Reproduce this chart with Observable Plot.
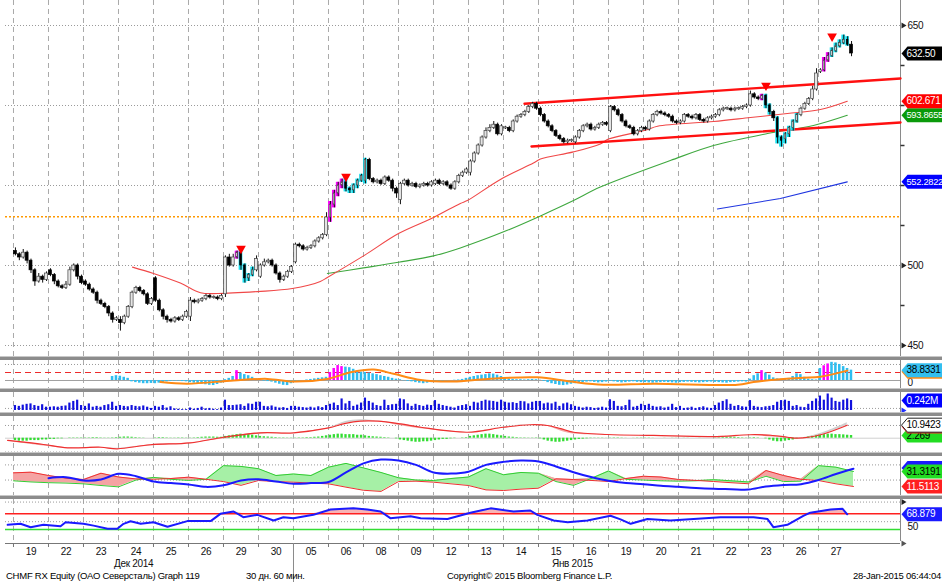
<!DOCTYPE html>
<html><head><meta charset="utf-8">
<script src="https://cdn.jsdelivr.net/npm/d3@7"></script>
<script src="https://cdn.jsdelivr.net/npm/@observablehq/plot@0.6"></script>
<style>
body{margin:0;background:#fff;}
#wrap{position:relative;width:942px;height:582px;overflow:hidden;font-family:'Liberation Sans',Arial,sans-serif;}
#wrap svg text{letter-spacing:-0.3px;}
.panel{position:absolute;left:0;}
.sep{position:absolute;left:0;width:942px;height:4px;border-top:1px solid #c8c8c8;background:#8c8c8c;box-sizing:border-box;}
.foot{position:absolute;top:570px;font-size:9.5px;letter-spacing:-0.25px;white-space:nowrap;color:#000;}
</style></head>
<body><div id="wrap"></div>
<script>
// ---------- DATA ----------
const dayLabels = ["19","22","23","24","25","26","29","30","05","06","08","09","12","13","14","15","16","19","20","21","22","23","26","27"];
const monthLabels = ["Дек 2014","Янв 2015"];
const monthPos = [30.9, 143.7];
const dayOpens = [509,497,490,466,492,468,482,493,502,530,553,541,551,558,586,598,577,584,586,589,593,600,579,621];
const closes = [
507,505,508,503,497,490,493,491,495,
494,490,487,486,488,497,500,493,489,
488,485,483,478,476,474,470,466,467,
464,468,474,483,486,484,482,476,479,
478,472,468,466,465,467,466,468,471,
478,477,478,479,481,480,480,479,481,
505,500,505,508,500,492,494,497,504,
500,502,503,500,495,491,493,496,499,
513,512,510,511,512,515,517,519,530,
538,545,550,552,548,547,550,553,556,
566,554,552,553,551,555,553,548,545,
551,553,550,551,549,550,551,550,552,
553,551,552,550,548,552,556,558,560,
565,570,575,580,584,586,588,582,587,
586,584,590,593,594,596,599,601,598,
594,590,587,584,581,579,577,578,578,
580,584,587,588,585,586,588,589,588,
599,597,594,590,587,586,582,584,586,
585,590,594,596,595,594,593,590,589,
590,594,593,592,594,591,590,592,593,
594,597,598,598,597,598,598,599,600,
607,605,604,606,600,596,592,580,578,
582,586,590,594,598,601,604,610,620,
622,628,631,634,637,639,641,638,632.5];
const wickHi = [
2,1,2,1,1,1,2,1,1, 1,1,1,1,2,2,1,1,1, 1,1,1,1,1,1,1,1,1, 2,1,1,1,1,1,1,1,1,
1,1,1,1,1,1,1,1,1, 2,1,1,1,1,1,1,1,1, 1,2,2,1,1,1,1,2,2, 1,2,1,1,1,1,1,1,1,
1,1,1,1,1,1,1,1,3, 2,2,2,2,3,1,1,1,1, 1,1,1,1,1,1,1,1,1, 1,1,1,1,1,1,1,1,1,
1,1,1,1,1,1,1,1,1, 1,1,1,1,2,2,2,1,1, 1,1,1,1,1,1,1,1,1, 1,1,1,1,1,1,1,1,1,
1,1,1,1,1,1,1,1,1, 1,1,1,1,1,1,1,1,1, 1,1,1,1,1,1,1,1,1, 1,1,1,1,1,1,1,1,1,
1,1,1,1,1,1,1,1,1, 2,1,1,1,1,1,1,1,1, 1,1,1,1,1,1,1,2,3, 1,2,2,2,2,2,3,2,2];
const wickLo = [
1,2,1,2,2,3,1,2,1, 1,2,1,1,1,1,1,2,1, 1,1,1,2,1,1,2,2,1, 5,1,1,1,1,1,1,1,1,
1,1,2,2,1,1,1,1,1, 3,1,1,1,1,1,1,1,1, 2,1,1,1,3,3,2,1,1, 1,1,1,1,1,2,1,1,1,
1,1,1,1,1,1,1,1,1, 3,2,2,2,2,2,2,2,1, 2,1,1,1,1,1,1,2,3, 3,1,1,1,1,1,1,1,1,
1,1,1,1,1,1,1,1,1, 2,1,1,1,1,1,1,1,1, 1,1,1,1,1,1,1,1,1, 1,1,1,1,1,1,1,1,1,
1,1,1,1,1,1,1,1,1, 1,1,1,1,1,1,1,1,1, 1,1,1,1,1,1,1,1,1, 1,1,1,1,1,1,1,1,1,
1,1,1,1,1,1,1,1,1, 1,1,1,1,2,2,2,4,4, 3,2,2,1,1,1,1,1,1, 1,1,1,1,1,1,1,1,2];
const magentaBars = [57,81,82,83,84,192,208,209];
const cyanBars = [58,59,60,61,85,86,87,88,89,90,193,194,196,197,198,199,200,201,210,211,212,213,214];
const triBars = [58,85,193,210];
const triVals = [510.6,555.6,612.5,643.2];
const maRedU = [30.6,36.0,42.9,48.1,52.5,62.7,71.7,78.9,80.7,90.0,99.0,108.0,114.9,116.7,125.2,133.7,135.5,144.0,150.9,153.0,162.5,165.6,180.0,189.5,199.0,207.5,214.4];
const maRedV = [499,495,489,483,482.5,483.7,485.6,490,492.5,506,520,530,538.8,540.6,553.8,564,566.5,571,576,579,584.5,587,590,592.5,595,597.5,602.671];
const maGreenU = [80.7,90.0,99.0,108.0,114.9,127.0,135.5,144.0,150.9,168.9,180.0,193.9,205.7,214.4];
const maGreenV = [495,498.5,502,506,511,522,531,540.6,549,565.6,575,582.5,587.5,593.8655];
const maBlueU = [181.0,197.2,214.4];
const maBlueV = [535.3,541.9,552.2822];
const chanUpperU = [131.4,228.09], chanUpperV = [601.1,616.9];
const chanLowerU = [133.2,228.09], chanLowerV = [574.4,589.4];
const gridLevels = [650,600,550,500,450];
const priceLabels = [650,500,450];
const minorLevels = [625,600,575,550,525,475];
const hLevel = 530.5;
const lastTags = [632.5,602.671,593.8655,552.2822];

const hist1 = [
0,0,0,0,0,0,0,0,0, 0,0,0,0,0,0,0,0,0, 0,0,0,0,0,0,0,15,18, 16,12,8,-5,-8,-10,-12,-12,-11,
-12,-10,-9,-5,-3,-2,-2,-4,-5, -8,-10,-12,-14,-16,-18,-19,-15,-10, 3,8,15,37,28,22,18,12,6, 2,-2,-4,-6,-10,-14,-18,-19,-12,
-6,-3,0,2,4,6,8,10,12, 30,45,56,52,50,48,42,35,31, 30,28,25,22,18,15,12,8,5, 3,-1,-3,-5,-8,-10,-12,-10,-8,
-5,-3,-2,-1,0,1,2,4,8, 12,15,18,20,22,25,24,20,15, 10,6,4,3,3,2,3,4,3, 1,-3,-8,-12,-15,-18,-19,-17,-14,
-12,-10,-8,-6,-5,-7,-9,-8,-6, -3,-5,-7,-9,-8,-6,-5,-7,-8, -8,-9,-10,-9,-8,-7,-8,-9,-10, -8,-7,-6,-7,-8,-9,-8,-7,-6,
-7,-8,-9,-10,-8,-7,-6,-5,-6, 5,18,25,37,28,20,10,6,5, 4,8,15,25,22,12,5,3,2, 45,55,62,68,66,60,52,45,38.8331];
const orangeU = [37.8,44.7,56.6,65.3,72.0,80.7,86.7,92.6,97.7,104.7,113.1,121.9,134.7,143.2,151.7,164.6,186.2,190.3,197.2,203.1,207.5,214.4];
const orangeV = [-6,-12,0,6,-4,6,31,41,25,2,-4,6,12,-4,-16,-12,-16,-6,5,10,14,37];

const volume = [
0.12,0.10,0.13,0.15,0.16,0.12,0.10,0.14,0.08, 0.08,0.09,0.08,0.10,0.11,0.18,0.22,0.25,0.12,
0.10,0.16,0.08,0.10,0.08,0.12,0.14,0.20,0.10, 0.12,0.10,0.09,0.12,0.10,0.09,0.11,0.08,0.05,
0.10,0.08,0.12,0.06,0.09,0.04,0.03,0.02,0.02, 0.06,0.03,0.05,0.08,0.04,0.05,0.03,0.02,0.06,
0.25,0.12,0.12,0.13,0.14,0.10,0.16,0.15,0.20, 0.20,0.10,0.09,0.11,0.08,0.06,0.07,0.05,0.10,
0.10,0.08,0.07,0.06,0.08,0.06,0.09,0.07,0.12, 0.15,0.18,0.12,0.28,0.16,0.22,0.10,0.13,0.18,
0.30,0.22,0.18,0.12,0.10,0.25,0.12,0.14,0.15, 0.28,0.26,0.16,0.10,0.15,0.12,0.10,0.13,0.12,
0.24,0.15,0.12,0.10,0.08,0.06,0.10,0.12,0.14, 0.10,0.20,0.18,0.22,0.25,0.23,0.22,0.20,0.25,
0.20,0.18,0.19,0.17,0.22,0.21,0.16,0.20,0.22, 0.22,0.16,0.18,0.16,0.20,0.10,0.16,0.18,0.14,
0.10,0.08,0.06,0.08,0.07,0.05,0.06,0.08,0.06, 0.26,0.22,0.10,0.09,0.12,0.25,0.08,0.10,0.15,
0.12,0.15,0.10,0.08,0.09,0.06,0.08,0.15,0.07, 0.10,0.05,0.06,0.08,0.05,0.07,0.09,0.06,0.05,
0.12,0.18,0.22,0.26,0.15,0.10,0.12,0.09,0.08, 0.24,0.10,0.08,0.07,0.09,0.10,0.12,0.20,0.24,
0.25,0.22,0.10,0.12,0.08,0.07,0.15,0.22,0.28, 0.35,0.25,0.40,0.30,0.22,0.20,0.25,0.28,0.242];

const p3U = [-1.5,7.7,13.9,22.4,26.7,35.2,45.5,54.0,63.5,72.0,80.7,85.4,89.2,93.6,99.5,104.7,116.7,126.0,132.9,137.3,140.7,144.0,152.7,164.6,180.0,189.5,194.7,199.0,201.6,207.5,214.4];
const p3Red = [-1.9,-5.3,-8.1,-7.6,-8.9,-5.5,-3.9,0.8,4.5,4.5,8.4,12.5,14.3,14.3,12,9.2,5.0,9.2,11.3,10.7,8.0,5.0,3.1,2.3,1.4,2.9,2.5,0.8,0,2.9,10.9423];
const p3Sig = [-2.5,-6.5,-8.5,-8.0,-8.5,-6.5,-4.2,-0.5,3.5,4.5,8.0,14.0,15.5,14.5,10.5,8.0,5.0,9.5,11.5,10.0,6.0,3.5,2.8,2.3,1.4,2.6,1.0,0.2,0,4.0,13.0];
const hist3 = [
-2,-2.5,-2.5,-2.5,-2,-2,-2,-1.5,-1.5, -1,-1,-0.5,-0.5,0,0.3,0.3,0.3,0.3, 0.3,0.3,0.5,0.5,0.3,0.2,0.2,0.3,0.5,
0.8,1,1,0.8,0.5,0.3,0.2,0,0, 0.3,0.5,0.5,0.3,0.2,0.2,0.3,0.3,0.2, 0.2,0.3,0.5,0.8,1,1,1,0.8,0.8,
1.5,2,2.5,3,3.4,3,3,2.5,2, 1.5,1.2,1,0.8,0.5,0.3,0.3,0.2,0.2, 0.2,0.3,0.3,0.5,0.5,0.8,1,1.5,2,
2.5,3,3.4,3.4,3,3,3,2.5,2.5, 2,1.5,1.2,1,0.8,0.5,0.3,0,-0.5, -1.5,-2,-2.5,-3,-3.4,-3.4,-3,-3,-2.5,
-2,-1.5,-1,-1,-0.5,-0.3,0,0.3,0.5, 1.5,2,2.5,3,3.4,3.4,3,2.5,2, 1.5,1,0.8,0.5,0.3,0.3,0.2,0.2,0.3,
-0.5,-1.5,-2.5,-3,-3.4,-3.4,-3,-2.5,-2, -1.5,-1,-0.8,-0.5,-0.3,-0.2,-0.2,-0.2,-0.1, 0.2,0.3,0.3,0.2,0.1,0,-0.1,-0.2,-0.2,
-0.2,-0.2,-0.1,0,0,0.1,0,-0.1,-0.1, 0,0.1,0.1,0,0,-0.1,0,0,0, 0.2,0.3,0.5,0.8,1,0.8,0.5,0.3,0.2,
0.3,0.5,0.3,0,-0.5,-1.5,-2.5,-3,-3, -2.5,-2,-1.5,-0.5,0,0.5,1,1.5,2, 2.5,3,3.4,3.4,3,3,2.8,2.5,2.269];

const dmiPlus = [19,17.5,16.5,16,15,12.8,11,20,23.5,21,19.5,21,39,38,35,26,28,26,37,42,36,30,23,20,19.4,22,24,35,27,30,29,18,13,22,32,21,20,19,18.5,19,20.5,19,17.5,25,18,18.5,39,37,31.3191];
const dmiMinus = [29.5,30.4,26,22.5,20.7,29,24,21.5,21,22,23.8,21,18,13,19.4,18,17.2,16,15,10.6,6.5,5,18,18.5,17.2,15,12.8,7,6.2,8,9.2,21.6,20.7,19.5,18.1,22,25,24,20.7,19.5,18.1,16.5,15.1,32.6,26,21,19.4,15,11.5113];
const adx = [22.5,23.8,19.4,20.7,28.3,25.1,18,16,14,11,13,19.4,21,18.1,15.1,16,17.5,30,42,47,45.8,40,30,28.5,31,40,44,45.8,44.5,38,30.4,24,19,16,14.5,12.5,11,9.5,8.5,8,7.5,11.5,13.5,14.5,20,28,35];

const rsiU = [-1.5,1.8,4.4,7.7,12.1,13.4,18.0,20.6,24.2,26.7,28.3,30.1,32.7,36.0,39.6,44.7,50.7,53.2,56.6,59.1,62.7,66.9,69.4,72.0,77.1,81.5,87.4,91.0,94.4,96.9,102.1,104.7,111.6,117.5,122.7,128.6,132.9,134.7,138.9,142.5,147.6,153.5,156.1,158.7,163.0,168.9,174.9,181.8,186.9,190.3,193.9,195.4,199.0,203.1,204.9,210.1,213.2,214.4];
const rsiV = [42,44.6,36,42,38.5,48.7,44.6,40,32,32,44.6,51,44.6,48.7,37,51.5,51.5,70,76,61.5,67.5,53,61.5,59,67.5,81,84.4,81,76,59,64,59,56.7,73,84,76,78.5,67.5,53,48.7,53,65,56,44.6,56.7,53,56.7,61.5,61.5,61.5,56.7,36,42,65,73,81,82.7,68.879];

const footLeft = "CHMF RX Equity (ОАО Северсталь) Graph 119";
const footPeriod = "30 дн. 60 мин.";
const footCopy = "Copyright© 2015 Bloomberg Finance L.P.";
const footTime = "28-Jan-2015 06:44:04";

// ---------- BUILD ----------
const FONT = "'Liberation Sans',Arial,sans-serif";
const XD = [-2.057, 228.09];
const XMAX = 228.09;
const dayBounds = dayLabels.map((d, i) => i * 9);

const bars = closes.map((c, i) => {
  const o = i % 9 === 0 ? dayOpens[i / 9] : closes[i - 1];
  const hl = magentaBars.includes(i) ? "#ff00ff" : cyanBars.includes(i) ? "#18e0f0" : null;
  let y1 = o, y2 = c;
  if (Math.abs(o - c) < 0.6) { y1 = c - 0.35; y2 = c + 0.35; }
  return {i, o, c, y1, y2, h: Math.max(o, c) + wickHi[i], l: Math.min(o, c) - wickLo[i], hl};
});

const sym = fn => ({draw: fn});
const tagSym = sym(ctx => { ctx.moveTo(1, 0); ctx.lineTo(7, -7); ctx.lineTo(60, -7); ctx.lineTo(60, 7); ctx.lineTo(7, 7); ctx.closePath(); });
const arrowSym = sym(ctx => { ctx.moveTo(1, -3); ctx.lineTo(6, 0); ctx.lineTo(1, 3); ctx.closePath(); });
const minorSym = sym(ctx => { ctx.moveTo(0, 0); ctx.lineTo(4, 0); });

function tag(v, fill, color, label, stroke) {
  return [
    Plot.dot([v], {x: () => XMAX, y: d => d, symbol: tagSym, r: 1, fill, stroke: stroke || "none", strokeWidth: 1}),
    Plot.text([v], {x: () => XMAX, y: d => d, text: () => label, fill: color, textAnchor: "start", dx: 6, fontSize: label.length > 7 ? 9.3 : 10})
  ];
}
function arrows(vals, fill) {
  return Plot.dot(vals, {x: () => XMAX, y: d => d, symbol: arrowSym, r: 1, fill: fill || "#222"});
}
function labels(vals, dy) {
  return Plot.text(vals, {x: () => XMAX, y: d => d, text: d => String(d), fill: "#111", textAnchor: "start", dx: 7, dy: dy || 0, fontSize: 10});
}

function panel(top, height, ydomain, marks, opts = {}) {
  const p = Plot.plot({
    width: 942, height, marginLeft: 5, marginRight: 42, marginTop: 0, marginBottom: 0,
    x: {domain: XD, axis: null},
    y: {domain: ydomain, axis: null, ...(opts.yrange ? {range: opts.yrange} : {})},
    color: {type: "identity"},
    style: {background: "transparent", overflow: "visible", fontFamily: FONT, fontSize: "10px"},
    marks: [
      ...(opts.noGrid ? [] : [Plot.ruleX(dayBounds, {x: d => d, stroke: "#a9a9a9", strokeDasharray: "5,4"})]),
      ...(opts.noAxis ? [] : [Plot.ruleX([XMAX], {x: d => d, stroke: "#8a8a8a"})]),
      ...marks
    ]
  });
  const div = document.createElement("div");
  div.className = "panel";
  div.style.top = top + "px";
  div.appendChild(p);
  document.getElementById("wrap").appendChild(div);
}

// Main price panel
panel(0, 356, [443.125, 665.625], [
  Plot.ruleY(gridLevels, {y: d => d, stroke: "#9a9a9a", strokeDasharray: "1,2"}),
  Plot.ruleY([hLevel], {y: d => d, stroke: "#ff9900", strokeDasharray: "2,2", strokeWidth: 1.6}),
  Plot.line(maBlueV, {x: (d, i) => maBlueU[i], y: d => d, stroke: "#1f35e0", strokeWidth: 1.1}),
  Plot.line(maGreenV, {x: (d, i) => maGreenU[i], y: d => d, stroke: "#3fa83f", strokeWidth: 1.1, curve: "catmull-rom"}),
  Plot.line(maRedV, {x: (d, i) => maRedU[i], y: d => d, stroke: "#f04848", strokeWidth: 1.1, curve: "catmull-rom"}),
  Plot.line(chanUpperV, {x: (d, i) => chanUpperU[i], y: d => d, stroke: "#ff1010", strokeWidth: 2.4}),
  Plot.line(chanLowerV, {x: (d, i) => chanLowerU[i], y: d => d, stroke: "#ff1010", strokeWidth: 2.4}),
  Plot.rect(bars.filter(b => b.hl), {x1: b => b.i + 0.02, x2: b => b.i + 0.98, y1: b => b.l, y2: b => b.h, fill: b => b.hl}),
  Plot.ruleX(bars, {x: b => b.i + 0.5, y1: b => b.l, y2: b => b.h, stroke: "#111", strokeWidth: 1}),
  Plot.rect(bars, {x1: b => b.i + (b.hl ? 0.3 : 0.12), x2: b => b.i + (b.hl ? 0.7 : 0.88), y1: b => b.y1, y2: b => b.y2,
    fill: b => b.c >= b.o ? "#e4e4e4" : "#000", stroke: b => b.c >= b.o ? "#444" : "#000", strokeWidth: 0.7}),
  Plot.dot(triVals, {x: (d, i) => triBars[i] + 0.5, y: d => d, symbol: "triangle", r: 3.6, rotate: 180, fill: "#ff0000"}),
  Plot.dot(minorLevels, {x: () => XMAX, y: d => d, symbol: minorSym, r: 1, fill: "none", stroke: "#333"}),
  arrows(priceLabels),
  labels(priceLabels),
  ...tag(lastTags[3], "#0000ff", "#fff", "552.2822"),
  ...tag(lastTags[2], "#0a9a0a", "#fff", "593.8655"),
  ...tag(lastTags[1], "#ff0000", "#fff", "602.671"),
  ...tag(lastTags[0], "#000", "#fff", "632.50")
]);

// Panel 1: histogram oscillator
panel(360, 28, [-30, 74.9], [
  Plot.ruleY([60], {y: d => d, stroke: "#9a9a9a", strokeDasharray: "1,2"}),
  Plot.ruleY([0], {y: d => d, stroke: "#a0a0a0"}),
  Plot.ruleY([30], {y: d => d, stroke: "#ee2a2a", strokeDasharray: "6,4", strokeWidth: 1.2}),
  Plot.rect(hist1, {x1: (d, i) => i + 0.15, x2: (d, i) => i + 0.8, y1: 0, y2: d => d,
    fill: (d, i) => magentaBars.includes(i) ? "#ff00ff" : "#2ebdf0"}),
  Plot.line(orangeV, {x: (d, i) => orangeU[i], y: d => d, stroke: "#ff8a14", strokeWidth: 2, curve: "catmull-rom"}),
  labels([0], 2),
  ...tag(33, "#ff8a14", "#000", ""),
  ...tag(38.8331, "#33bff0", "#000", "38.8331")
]);

// Panel 2: volume
panel(392, 20, [-0.0484, 0.436], [
  Plot.ruleY([0.05], {y: d => d, stroke: "#9a9a9a", strokeDasharray: "1,2"}),
  Plot.rect(volume, {x1: (d, i) => i + 0.22, x2: (d, i) => i + 0.78, y1: 0, y2: d => d, fill: "#1010dd"}),
  arrows([0], "#2030ff"),
  ...tag(0.242, "#0000ff", "#fff", "0.242M")
]);

// Panel 3: MACD-like
const p3 = p3U.map((u, i) => ({u, r: p3Red[i], s: p3Sig[i]}));
panel(416, 36, [-12.02, 18.24], [
  Plot.ruleY([10.7, -11.6], {y: d => d, stroke: "#9a9a9a", strokeDasharray: "1,2"}),
  Plot.ruleY([0], {y: d => d, stroke: "#d0d0d0"}),
  Plot.areaY(p3, {x: "u", y1: "r", y2: d => Math.max(d.s, d.r), fill: "#cfcfcf", curve: "catmull-rom"}),
  Plot.areaY(p3, {x: "u", y1: d => Math.min(d.s, d.r), y2: "r", fill: "#f4a8a8", curve: "catmull-rom"}),
  Plot.rect(hist3, {x1: (d, i) => i + 0.2, x2: (d, i) => i + 0.8, y1: 0, y2: d => d, fill: "#33dd33"}),
  Plot.line(p3, {x: "u", y: "r", stroke: "#ee3030", strokeWidth: 1.2, curve: "catmull-rom"}),
  ...tag(2.269, "#22dd22", "#000", "2.269"),
  ...tag(9.9, "#ff2020", "#fff", ""),
  ...tag(10.9423, "#ffffff", "#000", "10.9423", "#222")
]);

// Panel 4: DMI
const dmi = dmiPlus.map((g, k) => ({u: k * 4.5, g, r: dmiMinus[k]}));
const adxPts = adx.map((a, k) => ({u: (k + 2) * 4.5, a}));
panel(456, 39, [-0.4, 51.1], [
  Plot.ruleY([40, 20], {y: d => d, stroke: "#9a9a9a", strokeDasharray: "1,2"}),
  Plot.areaY(dmi, {x: "u", y1: "r", y2: d => Math.max(d.g, d.r), fill: "#a6f0a6"}),
  Plot.areaY(dmi, {x: "u", y1: "g", y2: d => Math.max(d.g, d.r), fill: "#f5a3a3"}),
  Plot.line(dmi, {x: "u", y: "g", stroke: "#33cc33", strokeWidth: 1}),
  Plot.line(dmi, {x: "u", y: "r", stroke: "#ee3030", strokeWidth: 1}),
  Plot.line(adxPts, {x: "u", y: "a", stroke: "#1a1aff", strokeWidth: 2, curve: "catmull-rom"}),
  ...tag(36, "#1a1aff", "#fff", ""),
  ...tag(31.3191, "#22dd22", "#000", "31.3191"),
  ...tag(11.5113, "#ff2020", "#fff", "11.5113")
]);

// Panel 5: RSI
const rsi = rsiU.map((u, i) => ({u, v: rsiV[i]}));
panel(499, 42, [-0.45, 106.56], [
  Plot.ruleY([100, 50], {y: d => d, stroke: "#9a9a9a", strokeDasharray: "1,2"}),
  Plot.areaY(rsi, {x: "u", y1: 70, y2: d => Math.max(d.v, 70), fill: "#f8b4b4"}),
  Plot.ruleY([70], {y: d => d, stroke: "#ff2020", strokeWidth: 1.5}),
  Plot.ruleY([30], {y: d => d, stroke: "#33dd33", strokeWidth: 1.5}),
  Plot.line(rsi, {x: "u", y: "v", stroke: "#1a1aff", strokeWidth: 2}),
  arrows([100]),
  labels([50], 5),
  ...tag(68.879, "#1a1aff", "#fff", "68.879")
]);

// Bottom time axis
panel(541, 41, [0, 41], [
  Plot.ruleY([2], {y: d => d, stroke: "#777"}),
  Plot.ruleX(dayBounds, {x: d => d, y1: 2, y2: 6, stroke: "#777"}),
  Plot.ruleX([72], {x: d => d, y1: 2, y2: 41, stroke: "#8a8a8a"}),
  Plot.dot([2], {x: () => XMAX, y: d => d, symbol: arrowSym, r: 1, fill: "#555"}),
  Plot.text(dayLabels, {x: (d, i) => i * 9 + 4.5, y: 10, text: d => d, fill: "#111", fontSize: 10}),
  Plot.text(monthLabels, {x: (d, i) => monthPos[i], y: 22, text: d => d, fill: "#111", fontSize: 10})
], {noGrid: true, noAxis: true, yrange: [0, 41]});

// separators
[356, 388, 412, 452, 495].forEach(t => {
  const s = document.createElement("div");
  s.className = "sep"; s.style.top = t + "px";
  document.getElementById("wrap").appendChild(s);
});

// footer
[[footLeft, 6], [footPeriod, 246], [footCopy, 447]].forEach(([t, x]) => {
  const f = document.createElement("div");
  f.className = "foot"; f.style.left = x + "px"; f.textContent = t;
  document.getElementById("wrap").appendChild(f);
});
const ft = document.createElement("div");
ft.className = "foot"; ft.style.right = "1px"; ft.textContent = footTime;
document.getElementById("wrap").appendChild(ft);
</script>
</body></html>
